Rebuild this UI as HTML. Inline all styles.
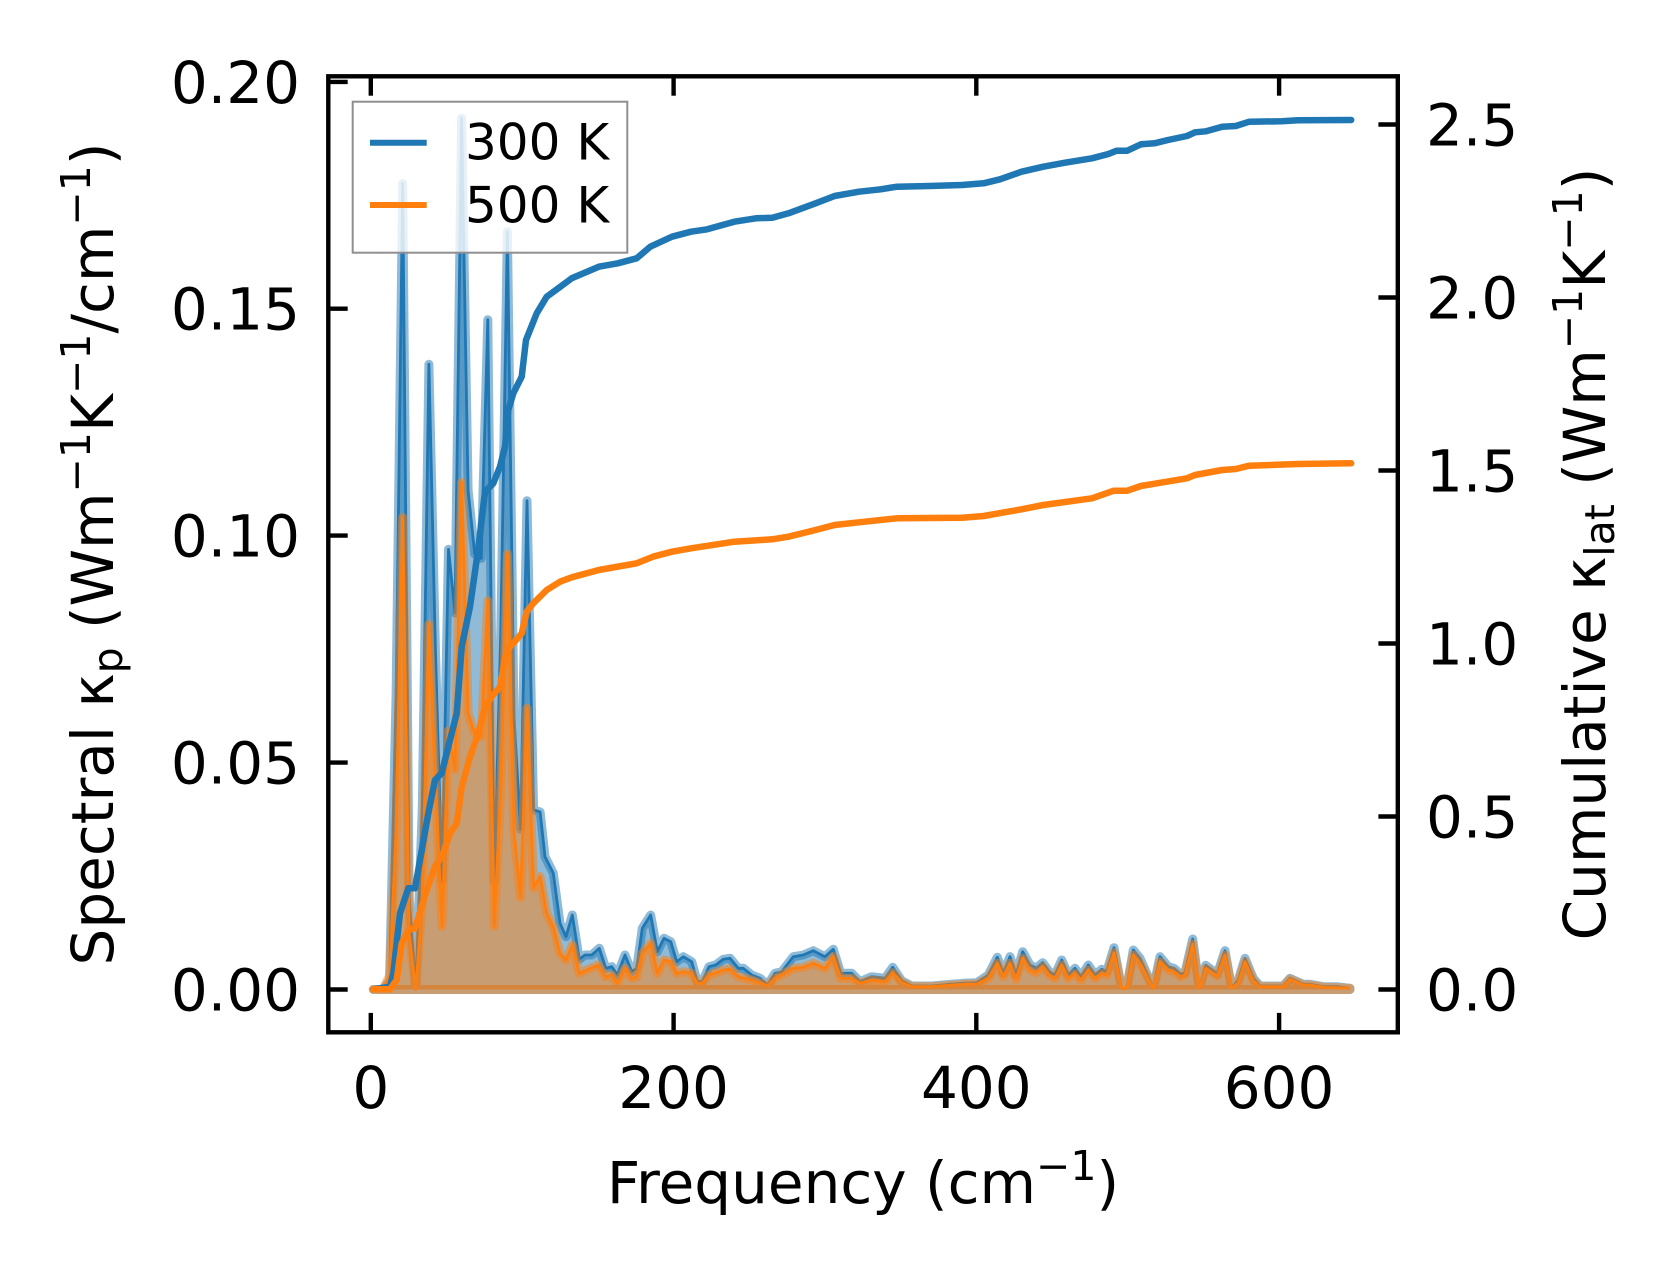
<!DOCTYPE html>
<html>
<head>
<meta charset="utf-8">
<style>
html,body{margin:0;padding:0;background:#fff;}
svg{display:block;}
text{font-family:"DejaVu Sans","Liberation Sans",sans-serif;fill:#000;}
</style>
</head>
<body>
<svg width="1679" height="1281" viewBox="0 0 1679 1281" xmlns="http://www.w3.org/2000/svg">
<rect x="0" y="0" width="1679" height="1281" fill="#fff"/>

<!-- Blue spectral fill (300 K) -->
<polygon fill="#1f77b4" fill-opacity="0.5" stroke="#1f77b4" stroke-opacity="0.5" stroke-width="9" stroke-linejoin="round"
points="373.3,989.5 383,989.5 389.6,980.4 396.1,694.5 402.7,183.5 409.2,898.7 415.8,989.5 422.3,808 428.9,364.2 435.4,649.2 442,880.6 448.5,549.3 455,612.9 461.6,118.2 468.1,490.3 474.7,553.9 481.2,558.4 487.8,319.7 494.3,880.6 500.9,626.5 507.4,231.6 514,717.2 520.5,829.3 527,500.8 533.6,809.8 540.1,812 545,856.7 553.3,873.3 560,923.3 566,936.7 572.3,915 579.3,959.3 585,955 591.7,955 599.3,948.3 605.7,968.3 611.7,966.7 617.3,975 625,955 631.7,971.7 636.7,968.3 642.3,928.3 650.7,915 657.3,951.7 664,938.3 670.7,941.7 676.7,961.7 683.3,956.7 691.7,961.7 697.3,981.7 702.3,981.7 709,966.7 715.7,965 723.3,959.3 730,958.3 738.3,968.3 743.3,968.3 751.7,975 760,978.3 767.7,985 775,973.3 781.7,971.7 793.3,956.7 803.3,955 813.3,950.7 825,956.7 833.3,949.3 840.7,973.3 851.7,973.3 860,981.7 871.7,976.7 885,978.3 892.7,967.3 901.7,980.7 911.7,986 931.7,986 950,984.3 963.3,983.3 976.7,982.7 988.3,975 997.3,957.3 1003.3,973.3 1010,956.7 1016,975 1022.7,951.7 1030,965 1036,968.3 1042.7,962.7 1049.3,971.7 1055,975 1061.7,960 1068.3,975 1075,968.3 1081,976.7 1088.3,965 1095,975 1101.7,969.3 1106.7,971.7 1114,947.7 1121.7,988.3 1126.7,988.3 1133.3,950 1140,958.3 1153.3,988.3 1160,956.7 1168.3,966.7 1174,968.3 1180.7,974.3 1185,972.7 1192.7,939 1199.3,988.3 1205.7,965.3 1217.3,974 1225,950.7 1231.7,988.3 1238.3,980 1245,958.3 1253.3,978.3 1260,986 1283.3,986 1290,978.3 1303.3,984.3 1310,984.3 1323.3,986.7 1336.7,986.7 1350,988.3 1350,989.5"/>
<polyline fill="none" stroke="#1f77b4" stroke-width="2.8" stroke-linejoin="round"
points="373.3,989.5 383,989.5 389.6,980.4 396.1,694.5 402.7,183.5 409.2,898.7 415.8,989.5 422.3,808 428.9,364.2 435.4,649.2 442,880.6 448.5,549.3 455,612.9 461.6,118.2 468.1,490.3 474.7,553.9 481.2,558.4 487.8,319.7 494.3,880.6 500.9,626.5 507.4,231.6 514,717.2 520.5,829.3 527,500.8 533.6,809.8 540.1,812 545,856.7 553.3,873.3 560,923.3 566,936.7 572.3,915 579.3,959.3 585,955 591.7,955 599.3,948.3 605.7,968.3 611.7,966.7 617.3,975 625,955 631.7,971.7 636.7,968.3 642.3,928.3 650.7,915 657.3,951.7 664,938.3 670.7,941.7 676.7,961.7 683.3,956.7 691.7,961.7 697.3,981.7 702.3,981.7 709,966.7 715.7,965 723.3,959.3 730,958.3 738.3,968.3 743.3,968.3 751.7,975 760,978.3 767.7,985 775,973.3 781.7,971.7 793.3,956.7 803.3,955 813.3,950.7 825,956.7 833.3,949.3 840.7,973.3 851.7,973.3 860,981.7 871.7,976.7 885,978.3 892.7,967.3 901.7,980.7 911.7,986 931.7,986 950,984.3 963.3,983.3 976.7,982.7 988.3,975 997.3,957.3 1003.3,973.3 1010,956.7 1016,975 1022.7,951.7 1030,965 1036,968.3 1042.7,962.7 1049.3,971.7 1055,975 1061.7,960 1068.3,975 1075,968.3 1081,976.7 1088.3,965 1095,975 1101.7,969.3 1106.7,971.7 1114,947.7 1121.7,988.3 1126.7,988.3 1133.3,950 1140,958.3 1153.3,988.3 1160,956.7 1168.3,966.7 1174,968.3 1180.7,974.3 1185,972.7 1192.7,939 1199.3,988.3 1205.7,965.3 1217.3,974 1225,950.7 1231.7,988.3 1238.3,980 1245,958.3 1253.3,978.3 1260,986 1283.3,986 1290,978.3 1303.3,984.3 1310,984.3 1323.3,986.7 1336.7,986.7 1350,988.3"/>

<!-- Orange spectral fill (500 K) -->
<polygon fill="#ff7f0e" fill-opacity="0.5" stroke="#ff7f0e" stroke-opacity="0.5" stroke-width="9" stroke-linejoin="round"
points="373.3,989.5 383,989.5 389.6,975.9 396.1,830.7 402.7,517.5 409.2,935 415.8,989.5 422.3,898.7 428.9,624.2 435.4,785.3 442,926.4 448.5,730.8 455,769.9 461.6,482.2 468.1,713.1 474.7,733.1 481.2,736.7 487.8,600.6 494.3,926.4 500.9,785.3 507.4,553.9 514,830.7 520.5,897.4 527,708.1 533.6,887.8 540.1,876.5 546.7,913.3 553.3,926.7 560,953.3 566,960 572.3,945 579.3,973.3 586.7,970 598.3,965 605.7,976.7 611.7,975 617.3,983.3 625,968.3 631.7,978.3 636.7,976.7 642.3,953.3 650.7,943.3 657.3,973.3 664,960 670.7,961.7 676.7,973.3 683.3,971.7 691.7,973.3 697.3,983.3 702.3,983.3 709,975 723.3,970 730,969 738.3,976.7 751.7,980 767.7,985.7 775,978.3 793.3,968.3 803.3,967.3 813.3,963.3 825,968.3 833.3,956.7 840.7,978.3 851.7,978.3 860,983.3 871.7,980 885,981.7 892.7,972.7 901.7,982.3 911.7,986.7 931.7,986.7 950,985.3 970,984 976.7,984.3 988.3,978.3 997.3,963.3 1003.3,976.7 1010,963.3 1016,979.3 1022.7,958.3 1030,970 1036,972.7 1042.7,966.7 1049.3,975 1055,978.3 1061.7,965 1068.3,978.3 1075,973.3 1081,980 1088.3,970 1095,978.3 1101.7,973.3 1106.7,975 1114,952.7 1121.7,988.3 1126.7,988.3 1133.3,955 1140,963.3 1153.3,988.3 1160,961.7 1168.3,970 1174,971.7 1180.7,976.7 1185,975 1192.7,944 1199.3,988.3 1205.7,968.3 1217.3,976 1225,955 1231.7,988.3 1238.3,982.7 1245,961.7 1253.3,980.7 1260,986.7 1283.3,986.7 1290,979.3 1303.3,985 1310,985 1323.3,987.3 1350,988.3 1350,989.5"/>
<polyline fill="none" stroke="#ff7f0e" stroke-width="2.8" stroke-linejoin="round"
points="373.3,989.5 383,989.5 389.6,975.9 396.1,830.7 402.7,517.5 409.2,935 415.8,989.5 422.3,898.7 428.9,624.2 435.4,785.3 442,926.4 448.5,730.8 455,769.9 461.6,482.2 468.1,713.1 474.7,733.1 481.2,736.7 487.8,600.6 494.3,926.4 500.9,785.3 507.4,553.9 514,830.7 520.5,897.4 527,708.1 533.6,887.8 540.1,876.5 546.7,913.3 553.3,926.7 560,953.3 566,960 572.3,945 579.3,973.3 586.7,970 598.3,965 605.7,976.7 611.7,975 617.3,983.3 625,968.3 631.7,978.3 636.7,976.7 642.3,953.3 650.7,943.3 657.3,973.3 664,960 670.7,961.7 676.7,973.3 683.3,971.7 691.7,973.3 697.3,983.3 702.3,983.3 709,975 723.3,970 730,969 738.3,976.7 751.7,980 767.7,985.7 775,978.3 793.3,968.3 803.3,967.3 813.3,963.3 825,968.3 833.3,956.7 840.7,978.3 851.7,978.3 860,983.3 871.7,980 885,981.7 892.7,972.7 901.7,982.3 911.7,986.7 931.7,986.7 950,985.3 970,984 976.7,984.3 988.3,978.3 997.3,963.3 1003.3,976.7 1010,963.3 1016,979.3 1022.7,958.3 1030,970 1036,972.7 1042.7,966.7 1049.3,975 1055,978.3 1061.7,965 1068.3,978.3 1075,973.3 1081,980 1088.3,970 1095,978.3 1101.7,973.3 1106.7,975 1114,952.7 1121.7,988.3 1126.7,988.3 1133.3,955 1140,963.3 1153.3,988.3 1160,961.7 1168.3,970 1174,971.7 1180.7,976.7 1185,975 1192.7,944 1199.3,988.3 1205.7,968.3 1217.3,976 1225,955 1231.7,988.3 1238.3,982.7 1245,961.7 1253.3,980.7 1260,986.7 1283.3,986.7 1290,979.3 1303.3,985 1310,985 1323.3,987.3 1350,988.3"/>

<!-- Cumulative curves -->
<polyline fill="none" stroke="#1f77b4" stroke-width="6.5" stroke-linejoin="round" stroke-linecap="round"
points="373.3,989.3 390,986.7 393.3,973.3 400,913.3 408.3,888.3 415,888.3 428.3,813.3 435,780 441.7,773.3 450,740 456.7,713.3 461.7,646.7 470,606.7 478.3,548.3 485,491.7 493.3,483.3 500,466.7 505,446.7 508.3,410 513.3,393.3 521.7,376.7 526,340 536.7,313.3 546.7,296.7 560,287 571.7,278.3 598.8,266.7 617.8,263.3 636.7,258.3 650.3,246.7 672,236.7 691,231.7 707.2,229.3 734.3,221.7 756,218.3 772.3,217.7 788.5,213.3 815.6,203.3 834.6,196 859,191.7 880.7,189.3 897,186.7 929.5,186 962,185 983.7,183.3 1000,179.3 1021.6,171.7 1043.3,166.7 1065,162.7 1092,158.3 1108.4,154 1116.5,150.7 1127.3,150.7 1140.9,144.3 1154.4,143.3 1168,140 1187,136 1195,132.3 1206,131.3 1222.2,126.7 1235.7,126 1249.3,121.7 1281.8,121.3 1298,120.3 1351.2,120"/>
<polyline fill="none" stroke="#ff7f0e" stroke-width="6.5" stroke-linejoin="round" stroke-linecap="round"
points="373.3,989.3 390,989.3 396.7,980 401.7,943.3 408.3,930 415,928.3 426.7,890 435,866.7 443.3,853.3 450,833.3 456.7,823.3 461.7,786.7 470,756.7 478.3,733.3 485,706.7 491.7,696.7 500,686.7 506.7,650 513.3,643.3 521.7,633.3 526.7,611.7 533.3,603.3 546.7,590 560,581.7 571.7,577.3 598.8,570 636.7,563.3 653,556.7 672,551.7 691,548.3 734.3,541.7 772.3,539.3 788.5,536.7 815.6,530 834.6,525 859,522.3 897,518.3 962,517.7 983.7,516 1021.6,509.3 1043.3,505 1092,498.3 1113.8,490.7 1127.3,490.7 1140.9,486 1157,483.3 1187,478.3 1195,475 1222.2,470 1235.7,469 1249.3,465.7 1298,464 1351.2,463.3"/>

<!-- Spines -->
<rect x="328.3" y="76.3" width="1069.5" height="956" fill="none" stroke="#000" stroke-width="4.4" stroke-linejoin="miter"/>

<!-- Ticks -->
<g stroke="#000" stroke-width="4.4">
  <line x1="370.8" y1="1032.3" x2="370.8" y2="1012.9"/>
  <line x1="673.6" y1="1032.3" x2="673.6" y2="1012.9"/>
  <line x1="976.3" y1="1032.3" x2="976.3" y2="1012.9"/>
  <line x1="1279.1" y1="1032.3" x2="1279.1" y2="1012.9"/>
  <line x1="370.8" y1="76.3" x2="370.8" y2="95.7"/>
  <line x1="673.6" y1="76.3" x2="673.6" y2="95.7"/>
  <line x1="976.3" y1="76.3" x2="976.3" y2="95.7"/>
  <line x1="1279.1" y1="76.3" x2="1279.1" y2="95.7"/>
  <line x1="328.3" y1="989.5" x2="347.7" y2="989.5"/>
  <line x1="328.3" y1="762.6" x2="347.7" y2="762.6"/>
  <line x1="328.3" y1="535.6" x2="347.7" y2="535.6"/>
  <line x1="328.3" y1="308.7" x2="347.7" y2="308.7"/>
  <line x1="328.3" y1="81.9" x2="347.7" y2="81.9"/>
  <line x1="1397.8" y1="989.5" x2="1378.4" y2="989.5"/>
  <line x1="1397.8" y1="816.5" x2="1378.4" y2="816.5"/>
  <line x1="1397.8" y1="643.5" x2="1378.4" y2="643.5"/>
  <line x1="1397.8" y1="470.5" x2="1378.4" y2="470.5"/>
  <line x1="1397.8" y1="297.5" x2="1378.4" y2="297.5"/>
  <line x1="1397.8" y1="124.5" x2="1378.4" y2="124.5"/>
</g>

<!-- Tick labels -->
<g font-size="58">
  <text x="370.8" y="1108" text-anchor="middle">0</text>
  <text x="673.6" y="1108" text-anchor="middle">200</text>
  <text x="976.3" y="1108" text-anchor="middle">400</text>
  <text x="1279.1" y="1108" text-anchor="middle">600</text>

  <text x="300" y="1010.5" text-anchor="end">0.00</text>
  <text x="300" y="783.6" text-anchor="end">0.05</text>
  <text x="300" y="556.6" text-anchor="end">0.10</text>
  <text x="300" y="329.7" text-anchor="end">0.15</text>
  <text x="300" y="102.9" text-anchor="end">0.20</text>

  <text x="1426" y="1010.5">0.0</text>
  <text x="1426" y="837.5">0.5</text>
  <text x="1426" y="664.5">1.0</text>
  <text x="1426" y="491.5">1.5</text>
  <text x="1426" y="318.5">2.0</text>
  <text x="1426" y="145.5">2.5</text>
</g>

<!-- Axis labels -->
<text x="863" y="1203" text-anchor="middle" font-size="58">Frequency (cm<tspan font-size="41" dy="-23">−1</tspan><tspan dy="23">)</tspan></text>

<text transform="translate(113,554) rotate(-90)" text-anchor="middle" font-size="58">Spectral κ<tspan font-size="41" dy="9">p</tspan><tspan dy="-9"> (Wm</tspan><tspan font-size="41" dy="-23">−1</tspan><tspan dy="23">K</tspan><tspan font-size="41" dy="-23">−1</tspan><tspan dy="23">/cm</tspan><tspan font-size="41" dy="-23">−1</tspan><tspan dy="23">)</tspan></text>

<text transform="translate(1605,554) rotate(-90)" text-anchor="middle" font-size="58">Cumulative κ<tspan font-size="41" dy="9">lat</tspan><tspan dy="-9"> (Wm</tspan><tspan font-size="41" dy="-23">−1</tspan><tspan dy="23">K</tspan><tspan font-size="41" dy="-23">−1</tspan><tspan dy="23">)</tspan></text>

<!-- Legend -->
<rect x="352.7" y="101.7" width="274.6" height="151" fill="#fff" fill-opacity="0.8" stroke="#8f8f8f" stroke-width="2"/>
<line x1="370" y1="142.7" x2="426.7" y2="142.7" stroke="#1f77b4" stroke-width="6"/>
<line x1="370" y1="205" x2="426.7" y2="205" stroke="#ff7f0e" stroke-width="6"/>
<text x="465" y="159.5" font-size="50">300 K</text>
<text x="465" y="222.5" font-size="50">500 K</text>
</svg>
</body>
</html>
